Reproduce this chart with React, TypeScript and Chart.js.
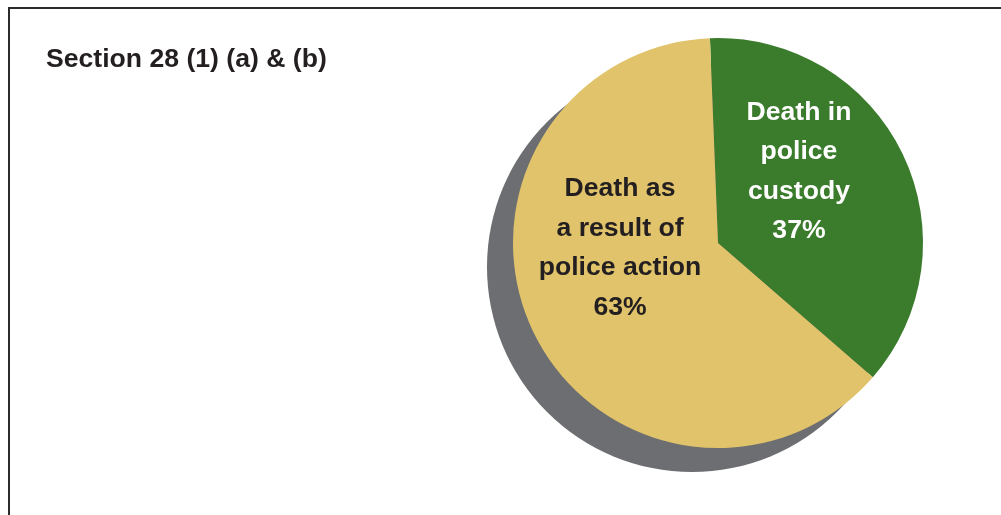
import React, { useEffect, useRef } from "react";
import { Chart, registerables } from "chart.js";

Chart.register(...registerables);

const title = "Section 28 (1) (a) & (b)";
const categories = ["Death in police custody", "Death as a result of police action"];
const values = [37, 63];
const sliceLabels = [
  ["Death in", "police", "custody", "37%"],
  ["Death as", "a result of", "police action", "63%"],
];
const colors = ["#3a7b2c", "#e0c36b"];
const labelColors = ["#ffffff", "#231f20"];
// label anchor offsets, as fractions of the radius (x centre, first baseline)
const labelOffsets = [
  [0.395, -0.602],
  [-0.478, -0.229],
];

const FAMILY = "'Liberation Sans', Arial, sans-serif";
const FONT = "bold 26.6px " + FAMILY;

const shadowPlugin = {
  id: "pieShadow",
  beforeDatasetsDraw(chart: any) {
    const arc = chart.getDatasetMeta(0).data[0];
    if (!arc) return;
    const { x, y, outerRadius } = arc.getProps(["x", "y", "outerRadius"], true);
    const ctx = chart.ctx;
    ctx.save();
    ctx.fillStyle = "#6d6e71";
    ctx.beginPath();
    ctx.arc(x - 26, y + 24, outerRadius, 0, Math.PI * 2);
    ctx.fill();
    ctx.restore();
  },
};

const labelPlugin = {
  id: "pieLabels",
  afterDatasetsDraw(chart: any) {
    const meta = chart.getDatasetMeta(0);
    const arc = meta.data[0];
    if (!arc) return;
    const { x, y, outerRadius } = arc.getProps(["x", "y", "outerRadius"], true);
    const ctx = chart.ctx;
    ctx.save();
    ctx.font = FONT;
    ctx.textAlign = "center";
    ctx.textBaseline = "alphabetic";
    sliceLabels.forEach((lines, i) => {
      ctx.fillStyle = labelColors[i];
      const cx = x + labelOffsets[i][0] * outerRadius;
      const by = y + labelOffsets[i][1] * outerRadius;
      lines.forEach((line, j) => {
        ctx.fillText(line, cx, by + j * 39.5);
      });
    });
    ctx.restore();
  },
};

export default function App() {
  const ref = useRef<HTMLCanvasElement>(null);
  useEffect(() => {
    if (!ref.current) return;
    const chart = new Chart(ref.current, {
      type: "pie",
      data: {
        labels: categories,
        datasets: [
          {
            data: values,
            backgroundColor: colors,
            borderWidth: 0,
          },
        ],
      },
      options: {
        animation: false,
        responsive: false,
        rotation: -2.25,
        layout: { padding: { left: 513, right: 78, top: 38, bottom: 67 } },
        plugins: {
          legend: { display: false },
          tooltip: { enabled: false },
        },
      },
      plugins: [shadowPlugin, labelPlugin],
    });
    let alive = true;
    if ((document as any).fonts && (document as any).fonts.load) {
      (document as any).fonts.load(FONT, "Death").then(() => {
        if (alive) chart.draw();
      }).catch(() => {});
    }
    return () => {
      alive = false;
      chart.destroy();
    };
  }, []);
  return (
    <>
      <div
        style={{
          position: "fixed",
          left: 8,
          top: 7,
          width: 1100,
          height: 600,
          borderTop: "2px solid #2b2b2b",
          borderLeft: "2px solid #2b2b2b",
          boxSizing: "border-box",
        }}
      />
      <canvas
        ref={ref}
        width={1001}
        height={515}
        style={{ position: "fixed", left: 0, top: 0, width: 1001, height: 515 }}
      />
      <div
        style={{
          position: "fixed",
          left: 46,
          top: 43,
          font: FONT,
          lineHeight: "30px",
          color: "#231f20",
          whiteSpace: "nowrap",
          margin: 0,
        }}
      >
        {title}
      </div>
    </>
  );
}
